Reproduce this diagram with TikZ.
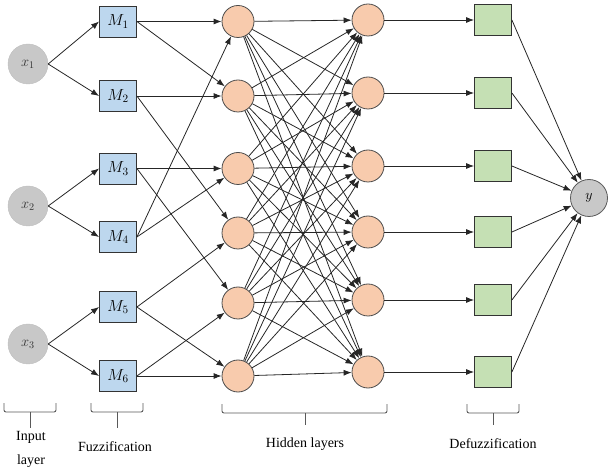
\documentclass[tikz,border=0pt]{standalone}
\usepackage{fix-cm}
\usepackage{fontspec}
\setmainfont{Liberation Serif}
\usetikzlibrary{arrows.meta}
\definecolor{mfblue}{RGB}{189,215,238}
\definecolor{hidpeach}{RGB}{248,203,173}
\definecolor{dfgreen}{RGB}{197,224,180}
\definecolor{ingray}{RGB}{200,200,200}
\begin{document}
\begin{tikzpicture}[x=1pt,y=-1pt,
  inp/.style={circle, draw=black!25, fill=ingray, minimum size=40pt, inner sep=0pt, text=black!80, font=\fontsize{14.5}{16}\selectfont},
  mf/.style={rectangle, draw=black!80, line width=0.8pt, fill=mfblue, minimum width=37pt, minimum height=31pt, inner sep=0pt, font=\fontsize{16}{18}\selectfont},
  hid/.style={circle, draw=black!70, line width=0.8pt, fill=hidpeach, minimum size=32pt, inner sep=0pt},
  dfz/.style={rectangle, draw=black!80, line width=0.8pt, fill=dfgreen, minimum width=37pt, minimum height=31pt, inner sep=0pt},
  outn/.style={circle, draw=black!65, line width=0.8pt, fill=ingray, minimum size=37pt, inner sep=0pt, font=\fontsize{14}{16}\selectfont},
  conn/.style={draw=black!85, line width=0.8pt, -{Latex[length=8pt,width=6pt]}},
  brace/.style={draw=black!65, line width=0.9pt, rounded corners=2pt},
  lbl/.style={font=\fontsize{14}{24}\selectfont, align=center, inner sep=0pt}
]
\useasboundingbox (0,0) rectangle (608,470);

% input layer
\node[inp] (x1) at (28,64) {$x_1$};
\node[inp] (x2) at (28,206) {$x_2$};
\node[inp] (x3) at (28,344) {$x_3$};

% fuzzification
\node[mf] (m1) at (118,21.5) {$M_1$};
\node[mf] (m2) at (118,96) {$M_2$};
\node[mf] (m3) at (118,168.5) {$M_3$};
\node[mf] (m4) at (118,237) {$M_4$};
\node[mf] (m5) at (118,307) {$M_5$};
\node[mf] (m6) at (118,376) {$M_6$};

% hidden layer 1
\node[hid] (h1) at (238,21.5) {};
\node[hid] (h2) at (238,96) {};
\node[hid] (h3) at (238,168.5) {};
\node[hid] (h4) at (238,233) {};
\node[hid] (h5) at (238,303) {};
\node[hid] (h6) at (238,376) {};

% hidden layer 2
\node[hid] (g1) at (368,20) {};
\node[hid] (g2) at (368,93) {};
\node[hid] (g3) at (368,166) {};
\node[hid] (g4) at (368,232) {};
\node[hid] (g5) at (368,300) {};
\node[hid] (g6) at (368,372) {};

% defuzzification
\node[dfz] (d1) at (493,20) {};
\node[dfz] (d2) at (493,93) {};
\node[dfz] (d3) at (493,166) {};
\node[dfz] (d4) at (493,232) {};
\node[dfz] (d5) at (493,300) {};
\node[dfz] (d6) at (493,372) {};

% output
\node[outn] (y) at (589,198) {$y$};

% input -> MF
\draw[conn] (x1.east) -- (m1.west);
\draw[conn] (x1.east) -- (m2.west);
\draw[conn] (x2.east) -- (m3.west);
\draw[conn] (x2.east) -- (m4.west);
\draw[conn] (x3.east) -- (m5.west);
\draw[conn] (x3.east) -- (m6.west);

% MF -> hidden 1
\draw[conn] (m1.east) -- (h1);
\draw[conn] (m1.east) -- (h2);
\draw[conn] (m2.east) -- (h2);
\draw[conn] (m2.east) -- (h4);
\draw[conn] (m3.east) -- (h3);
\draw[conn] (m3.east) -- (h5);
\draw[conn] (m4.east) -- (h1);
\draw[conn] (m4.east) -- (h3);
\draw[conn] (m5.east) -- (h4);
\draw[conn] (m5.east) -- (h6);
\draw[conn] (m6.east) -- (h5);
\draw[conn] (m6.east) -- (h6);

% hidden 1 -> hidden 2 (full)
\foreach \i in {1,...,6}{
  \foreach \j in {1,...,6}{
    \draw[conn] (h\i) -- (g\j);
  }
}

% hidden 2 -> defuzz
\foreach \i in {1,...,6}{
  \draw[conn] (g\i.east) -- (d\i.west);
}

% defuzz -> output
\foreach \i in {1,...,6}{
  \draw[conn] (d\i.east) -- (y);
}

% braces
\draw[brace] (4,403) -- (4,412) -- (56,412) -- (56,403);
\draw[brace] (30,412) -- (30,428);
\draw[brace] (91,403) -- (91,412) -- (143,412) -- (143,403);
\draw[brace] (117,412) -- (117,428);
\draw[brace] (222,404) -- (222,413) -- (387,413) -- (387,404);
\draw[brace] (305,413) -- (305,425);
\draw[brace] (467,404) -- (467,413) -- (519,413) -- (519,404);
\draw[brace] (493,413) -- (493,425);

% labels
\node[lbl] (linput) at (31,437) {Input};
\node[lbl] (llayer) at (31,461) {layer};
\node[lbl] (lfuzz) at (115,447) {Fuzzification};
\node[lbl] (lhid) at (305,444) {Hidden layers};
\node[lbl] (ldef) at (493,444) {Defuzzification};
\end{tikzpicture}
\end{document}
